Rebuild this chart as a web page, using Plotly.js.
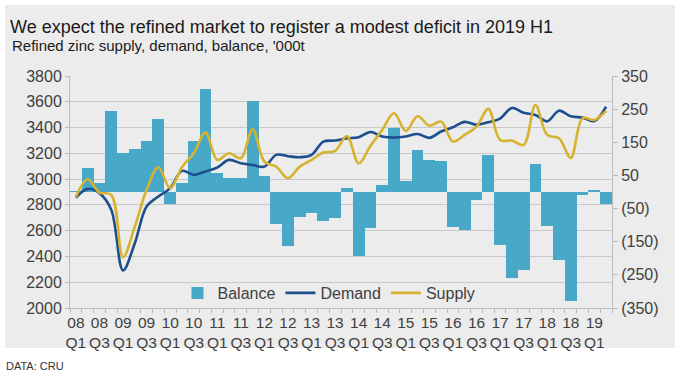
<!DOCTYPE html>
<html>
<head>
<meta charset="utf-8">
<script src="https://cdn.plot.ly/plotly-3.0.1.min.js"></script>
<style>
  html, body { margin: 0; padding: 0; background: #ffffff; }
  #chart { width: 681px; height: 377px; }
</style>
</head>
<body>
<div id="chart"></div>
<script>
// Quarterly categories, 2008 Q1 - 2019 Q2
const categories = [
  "08 Q1","08 Q2","08 Q3","08 Q4",
  "09 Q1","09 Q2","09 Q3","09 Q4",
  "10 Q1","10 Q2","10 Q3","10 Q4",
  "11 Q1","11 Q2","11 Q3","11 Q4",
  "12 Q1","12 Q2","12 Q3","12 Q4",
  "13 Q1","13 Q2","13 Q3","13 Q4",
  "14 Q1","14 Q2","14 Q3","14 Q4",
  "15 Q1","15 Q2","15 Q3","15 Q4",
  "16 Q1","16 Q2","16 Q3","16 Q4",
  "17 Q1","17 Q2","17 Q3","17 Q4",
  "18 Q1","18 Q2","18 Q3","18 Q4",
  "19 Q1","19 Q2"
];

// Balance, '000t (right axis)
const balance = [
  3, 73, 28, 244, 118, 130, 154, 220, -36, 28, 153, 311,
  58, 42, 43, 276, 47, -98, -164, -74, -62, -88, -78, 13,
  -194, -110, 20, 193, 34, 128, 96, 94, -106, -114, -25, 113,
  -160, -258, -234, 83, -104, -206, -330, -10, 5, -36
];

// Demand, '000t (left axis)
const demand = [
  2857, 2924, 2891, 2762, 2292, 2503, 2787, 2865, 2930, 3064, 3033, 3059,
  3090, 3149, 3123, 3110, 3097, 3188, 3178, 3170, 3188, 3291, 3299, 3317,
  3325, 3365, 3330, 3322, 3330, 3350, 3320, 3369, 3402, 3444, 3422, 3442,
  3470, 3552, 3514, 3498, 3448, 3531, 3487, 3477, 3450, 3562
];

// Supply, '000t (left axis)
const supply = [
  2862, 2999, 2896, 2878, 2395, 2632, 2917, 3092, 2930, 3092, 3201, 3361,
  3149, 3201, 3162, 3387, 3136, 3097, 3007, 3097, 3149, 3206, 3219, 3335,
  3123, 3258, 3382, 3511, 3374, 3488, 3415, 3446, 3291, 3343, 3407, 3545,
  3304, 3299, 3265, 3575, 3343, 3317, 3165, 3472, 3459, 3529
];

const leftTicks = [2000, 2200, 2400, 2600, 2800, 3000, 3200, 3400, 3600, 3800];
const rightTicks = [-350, -250, -150, -50, 50, 150, 250, 350];
const rightTickText = ["(350)", "(250)", "(150)", "(50)", "50", "150", "250", "350"];

const xTickText = categories.map((c, i) => (i % 2 === 0 ? c.replace(" ", "<br>") : ""));

const FONT = "Liberation Sans, Arial, sans-serif";
const TXT = "#404040";
const AX = "#bdbdbd";

const traces = [
  {
    type: "bar", name: "Balance", x: categories, y: balance,
    yaxis: "y", marker: { color: "#47a8c8", line: { width: 0 } }
  },
  {
    type: "scatter", mode: "lines", name: "Demand", x: categories, y: demand,
    yaxis: "y2", line: { color: "#1d4f8f", width: 2.6, shape: "spline", smoothing: 1 }
  },
  {
    type: "scatter", mode: "lines", name: "Supply", x: categories, y: supply,
    yaxis: "y2", line: { color: "#d6b22e", width: 2.6, shape: "spline", smoothing: 1 }
  }
];

const L = 70, R = 69, T = 76, B = 69, W = 681, H = 377;
const pw = W - L - R, ph = H - T - B;
const px = v => (v - L) / pw;
const py = v => (H - B - v) / ph;

const layout = {
  width: W, height: H,
  margin: { l: L, r: R, t: T, b: B, pad: 0 },
  paper_bgcolor: "#ffffff",
  plot_bgcolor: "rgba(0,0,0,0)",
  font: { family: FONT, size: 16, color: TXT },
  bargap: 0,
  showlegend: true,
  title: {
    text: "We expect the refined market to register a modest deficit in 2019 H1",
    font: { family: FONT, size: 18, color: "#1a1a1a" },
    xref: "container", x: 10 / W, xanchor: "left",
    yref: "container", y: 1 - 27 / H, yanchor: "middle"
  },
  xaxis: {
    type: "category", categoryorder: "array", categoryarray: categories,
    range: [-0.5, categories.length - 0.5],
    tickvals: categories, ticktext: xTickText, tickangle: 0,
    tickson: "boundaries", ticks: "outside", ticklen: 4, tickcolor: AX, tickwidth: 1,
    showline: true, linecolor: AX, linewidth: 1,
    showgrid: false, zeroline: false,
    tickfont: { family: FONT, size: 15.5, color: TXT },
    automargin: false, fixedrange: true
  },
  yaxis: {
    side: "right", range: [-350, 350],
    tickvals: rightTicks, ticktext: rightTickText,
    ticks: "outside", ticklen: 5, tickcolor: AX,
    showline: true, linecolor: AX, linewidth: 1,
    showgrid: false, zeroline: false,
    tickfont: { family: FONT, size: 16, color: TXT },
    automargin: false, fixedrange: true
  },
  yaxis2: {
    overlaying: "y", side: "left", range: [2000, 3800],
    tickvals: leftTicks,
    ticks: "outside", ticklen: 4, tickcolor: AX,
    showline: true, linecolor: AX, linewidth: 1,
    showgrid: true, gridcolor: "#c8c8c8", gridwidth: 1, zeroline: false,
    tickfont: { family: FONT, size: 16, color: TXT },
    automargin: false, fixedrange: true
  },
  legend: {
    orientation: "h", x: px(329), xanchor: "center", y: py(293), yanchor: "middle",
    bgcolor: "rgba(0,0,0,0)", font: { family: FONT, size: 16, color: TXT },
    traceorder: "normal", itemwidth: 30
  },
  shapes: [
    {
      type: "rect", xref: "paper", yref: "paper", layer: "below",
      x0: px(5), x1: px(675), y0: py(348), y1: py(5),
      fillcolor: "#ececec", line: { width: 0 }
    }
  ],
  annotations: [
    {
      text: "Refined zinc supply, demand, balance, '000t",
      xref: "paper", yref: "paper", x: px(10), y: py(46),
      xanchor: "left", yanchor: "middle", showarrow: false,
      font: { family: FONT, size: 15, color: "#1a1a1a" }
    },
    {
      text: "DATA: CRU",
      xref: "paper", yref: "paper", x: px(4), y: py(366),
      xanchor: "left", yanchor: "middle", showarrow: false,
      font: { family: FONT, size: 11, color: "#333333" }
    }
  ]
};

Plotly.newPlot("chart", traces, layout, { displayModeBar: false, staticPlot: true });
</script>
</body>
</html>
